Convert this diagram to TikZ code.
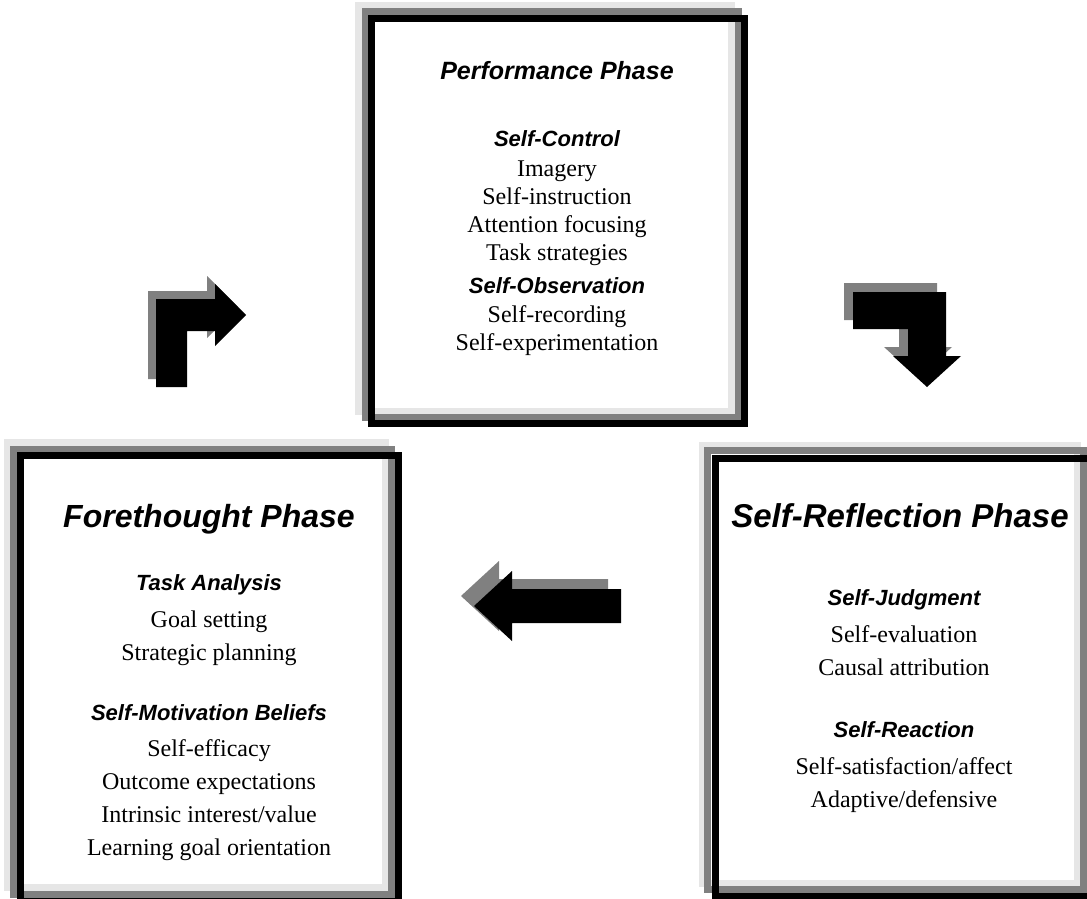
\documentclass[tikz,border=0pt]{standalone}
\usepackage{fontspec}
\setmainfont{Liberation Serif}
\newfontfamily\headfont{Liberation Sans}
\definecolor{lightgrayc}{HTML}{E6E6E6}
\definecolor{darkgrayc}{HTML}{808080}
\tikzset{
  lgframe/.style={draw=lightgrayc, line width=7pt},
  dgframe/.style={draw=darkgrayc, line width=7pt},
  bkframe/.style={draw=black, line width=7pt},
  ttl/.style={font=\headfont\bfseries\itshape\fontsize{32}{38}\selectfont, anchor=base, inner sep=0pt},
  subhd/.style={font=\headfont\bfseries\itshape\fontsize{22}{26}\selectfont, anchor=base, inner sep=0pt},
  itm/.style={font=\fontsize{24}{28}\selectfont, anchor=base, inner sep=0pt},
  shadowarrow/.style={fill=darkgrayc},
  bodyarrow/.style={fill=black},
}
\begin{document}
\begin{tikzpicture}[x=1pt,y=-1pt]
\useasboundingbox (0,0) rectangle (1087,899);
\clip (0,0) rectangle (1087,899);
\fill[white] (0,0) rectangle (1087,899);

% ---- Performance box frames
\draw[lgframe] (358.5,6) rectangle (731.5,411);
\draw[dgframe] (365,12) rectangle (738,417);
\draw[bkframe] (371.5,18.5) rectangle (744.5,423.5);

% ---- Forethought box frames
\draw[lgframe] (7.5,442.5) rectangle (385.5,887.5);
\draw[dgframe] (13.5,449.5) rectangle (391.5,894.5);
\draw[bkframe] (20.5,455.5) rectangle (398.5,901.5);

% ---- Self-Reflection box frames
\draw[lgframe] (702.5,445.5) rectangle (1077.5,883.5);
\draw[dgframe] (707.5,450.5) rectangle (1083.5,889.5);
\draw[bkframe] (715.5,458.5) rectangle (1091.5,896.5);

% ---- Performance text
\node[ttl, font=\headfont\bfseries\itshape\fontsize{25}{30}\selectfont] (pt) at (557,80) {Performance Phase};
\node[subhd] (psc) at (557,146) {Self-Control};
\node[itm] (p1) at (557,176) {Imagery};
\node[itm] (p2) at (557,204) {Self-instruction};
\node[itm] (p3) at (557,232) {Attention focusing};
\node[itm] (p4) at (557,260) {Task strategies};
\node[subhd] (pso) at (557,293) {Self-Observation};
\node[itm] (p5) at (557,322) {Self-recording};
\node[itm] (p6) at (557,350) {Self-experimentation};

% ---- Forethought text
\node[ttl] (ft) at (209,527) {Forethought Phase};
\node[subhd] (fta) at (209,590) {Task Analysis};
\node[itm] (f1) at (209,627) {Goal setting};
\node[itm] (f2) at (209,660) {Strategic planning};
\node[subhd] (fsm) at (209,720) {Self-Motivation Beliefs};
\node[itm] (f3) at (209,756) {Self-efficacy};
\node[itm] (f4) at (209,789) {Outcome expectations};
\node[itm] (f5) at (209,822) {Intrinsic interest/value};
\node[itm] (f6) at (209,855) {Learning goal orientation};

% ---- Self-Reflection text
\node[ttl, font=\headfont\bfseries\itshape\fontsize{33}{39}\selectfont] (st) at (900,527) {Self-Reflection Phase};
\node[subhd] (ssj) at (904,605) {Self-Judgment};
\node[itm] (s1) at (904,642) {Self-evaluation};
\node[itm] (s2) at (904,675) {Causal attribution};
\node[subhd] (ssr) at (904,737) {Self-Reaction};
\node[itm] (s3) at (904,774) {Self-satisfaction/affect};
\node[itm] (s4) at (904,807) {Adaptive/defensive};

% ---- Arrow: up then right (left side)
\begin{scope}[shift={(-8,-8)}]
\fill[shadowarrow] (156,387) -- (156,299) -- (215,299) -- (215,284) -- (246,315) -- (215,346) -- (215,331) -- (187,331) -- (187,387) -- cycle;
\end{scope}
\fill[bodyarrow] (156,387) -- (156,299) -- (215,299) -- (215,284) -- (246,315) -- (215,346) -- (215,331) -- (187,331) -- (187,387) -- cycle;

% ---- Arrow: right then down (right side)
\begin{scope}[shift={(-9,-9)}]
\fill[shadowarrow] (853,292) -- (946,292) -- (946,356) -- (961,356) -- (927,387) -- (893,356) -- (908,356) -- (908,329) -- (853,329) -- cycle;
\end{scope}
\fill[bodyarrow] (853,292) -- (946,292) -- (946,356) -- (961,356) -- (927,387) -- (893,356) -- (908,356) -- (908,329) -- (853,329) -- cycle;

% ---- Arrow: left (bottom middle)
\begin{scope}[shift={(-13,-10)}]
\fill[shadowarrow] (621,589) -- (512,589) -- (512,571) -- (474,606) -- (512,641) -- (512,623) -- (621,623) -- cycle;
\end{scope}
\fill[bodyarrow] (621,589) -- (512,589) -- (512,571) -- (474,606) -- (512,641) -- (512,623) -- (621,623) -- cycle;
\end{tikzpicture}
\end{document}
